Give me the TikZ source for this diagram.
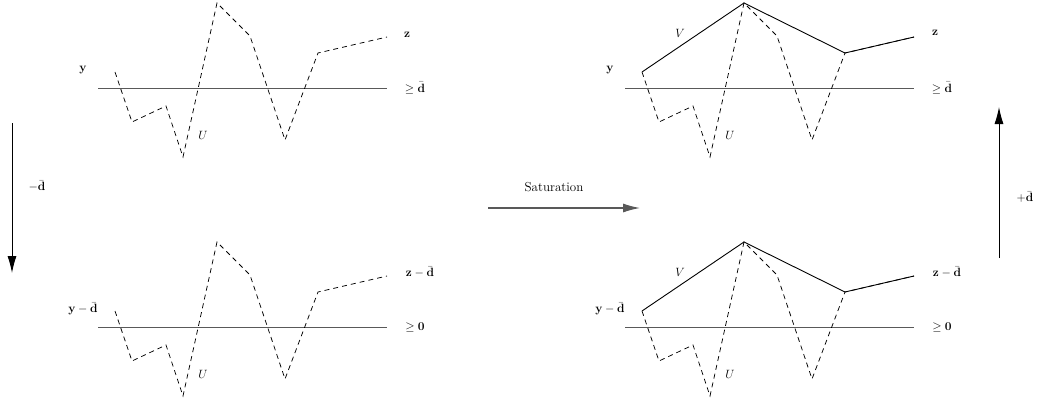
\documentclass[tikz,border=0pt]{standalone}
\usetikzlibrary{arrows.meta}
\tikzset{
  lbl/.style={inner sep=0pt, font=\fontsize{13}{15}\selectfont},
  baseline/.style={draw=black!65, line width=1.2pt},
  dashline/.style={draw=black, line width=0.75pt, dash pattern=on 5pt off 4pt},
  solidline/.style={draw=black, line width=0.9pt},
  arr/.style={draw=black, line width=0.9pt, -{Latex[length=17pt,width=9pt]}},
  arrgray/.style={draw=black!65, line width=1.2pt, -{Latex[length=17pt,width=9pt]}}
}
\newcommand\drawpanel[5]{%
  \begin{scope}[shift={(#2,#3)}]
    \coordinate (#1p0) at (115,72);
    \coordinate (#1p1) at (132,122);
    \coordinate (#1p2) at (166,106);
    \coordinate (#1p3) at (183,157);
    \coordinate (#1p4) at (217,3);
    \coordinate (#1p5) at (250,36);
    \coordinate (#1p6) at (285,140);
    \coordinate (#1p7) at (318,53);
    \coordinate (#1p8) at (387,37);
    \coordinate (#1la) at (98,88.5);
    \coordinate (#1lb) at (387,88.5);
    \draw[baseline] (#1la) -- (#1lb);
    \draw[dashline] (#1p0) -- (#1p1) -- (#1p2) -- (#1p3) -- (#1p4) -- (#1p5) -- (#1p6) -- (#1p7) -- (#1p8);
    \node[lbl] (#1U) at (203,135) {$U$};
    \node[lbl] (#1ge) at (415,88) {#5};
    \node[lbl] (#1y) at (83,70) {#4};
  \end{scope}}
\begin{document}
\begin{tikzpicture}[x=1pt,y=-1pt]
\useasboundingbox (0,0) rectangle (1037,404);
% top-left
\drawpanel{a}{0}{0}{$\mathbf{y}$}{$\geq\bar{\mathbf{d}}$}
\node[lbl] (az) at (407,35) {$\mathbf{z}$};
% bottom-left
\drawpanel{b}{0}{239}{$\mathbf{y}-\bar{\mathbf{d}}$}{$\geq\mathbf{0}$}
\node[lbl] (bz) at (420,272) {$\mathbf{z}-\bar{\mathbf{d}}$};
% top-right
\drawpanel{c}{527}{0}{$\mathbf{y}$}{$\geq\bar{\mathbf{d}}$}
\node[lbl] (cz) at (935,33) {$\mathbf{z}$};
\draw[solidline] (cp0) -- (cp4) -- (cp7) -- (cp8);
\node[lbl] (cV) at (680,33) {$V$};
% bottom-right
\drawpanel{d}{527}{239}{$\mathbf{y}-\bar{\mathbf{d}}$}{$\geq\mathbf{0}$}
\node[lbl] (dz) at (947,272) {$\mathbf{z}-\bar{\mathbf{d}}$};
\draw[solidline] (dp0) -- (dp4) -- (dp7) -- (dp8);
\node[lbl] (dV) at (680,272) {$V$};
% arrows
\coordinate (l1) at (12,123);
\coordinate (l2) at (12,273);
\draw[arr] (l1) -- (l2);
\node[lbl] (lm) at (37,186) {$-\bar{\mathbf{d}}$};
\coordinate (s1) at (488,208);
\coordinate (s2) at (640,208);
\draw[arrgray] (s1) -- (s2);
\node[lbl] (sat) at (554,187) {Saturation};
\coordinate (r1) at (999,258);
\coordinate (r2) at (999,107);
\draw[arr] (r1) -- (r2);
\node[lbl] (rp) at (1025,197) {$+\bar{\mathbf{d}}$};
\end{tikzpicture}
\end{document}
